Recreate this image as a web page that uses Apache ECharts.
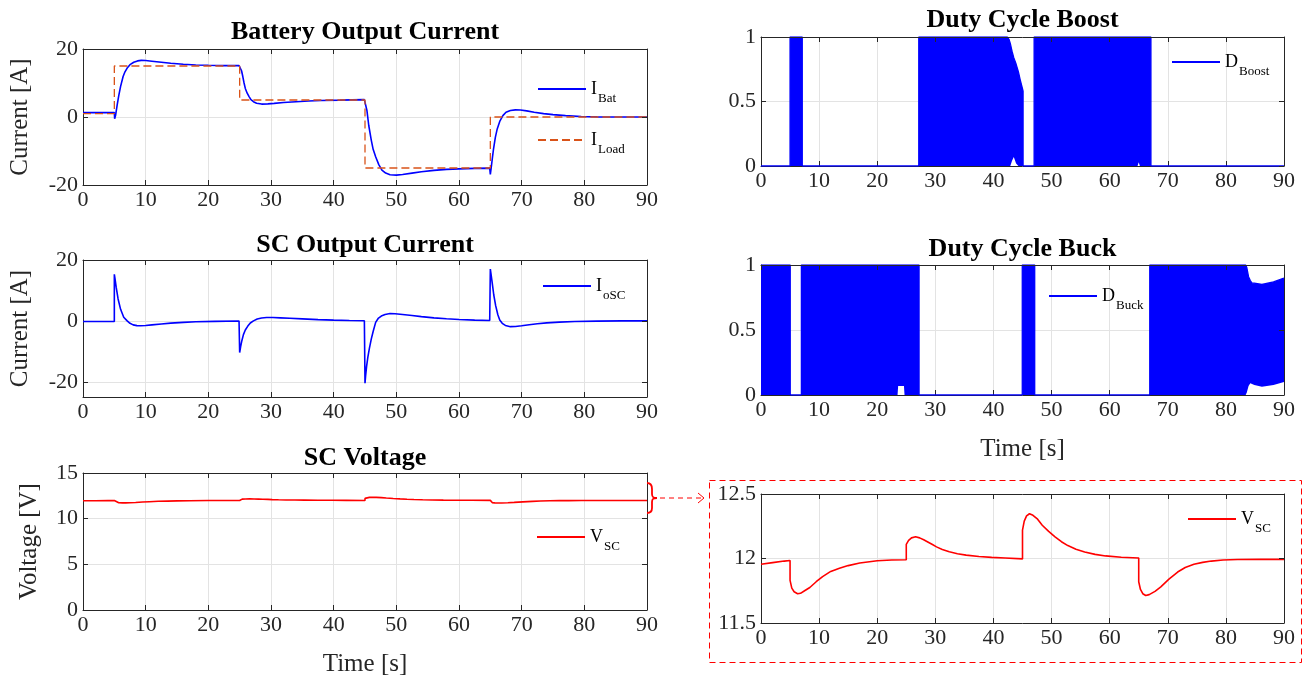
<!DOCTYPE html>
<html>
<head>
<meta charset="utf-8">
<script src="https://cdn.jsdelivr.net/npm/echarts@6/dist/echarts.min.js"></script>
<style>
  html, body { margin: 0; padding: 0; background: #ffffff; }
  #chart { width: 1304px; height: 679px; }
</style>
</head>
<body>
<div id="chart"></div>
<script>
// ---- Time axis ticks (s) ----
const timeTicks = [0, 10, 20, 30, 40, 50, 60, 70, 80, 90];

// ---- Battery output current [A]: [t, value] ----
const iBat = [
  [0, 1.3], [5, 1.3], [5.05, -0.5], [5.2, 0.5], [5.45, 3.5], [5.7, 6.2], [6.0, 9.0], [6.4, 11.9],
  [6.7, 13.3], [7.05, 14.4], [7.5, 15.4], [8.1, 16.1], [8.7, 16.5], [9.3, 16.65], [10, 16.6],
  [11, 16.4], [12.5, 16.1], [14, 15.8], [16, 15.5], [18, 15.3], [20, 15.2], [22.5, 15.1],
  [24.9, 15.1], [25, 15.6], [25.1, 15.0], [25.3, 13.6], [25.5, 11.9], [25.7, 10.0], [25.9, 8.4],
  [26.2, 7.0], [26.5, 6.0], [26.8, 5.1], [27.2, 4.5], [27.7, 4.05], [28.5, 3.8], [29.5, 3.85],
  [30.5, 4.0], [32, 4.25], [34, 4.5], [36, 4.7], [38, 4.85], [41, 4.95], [44.9, 5.1], [45, 5.6],
  [45.1, 4.8], [45.3, 2.0], [45.6, -2.5], [46.0, -6.8], [46.3, -9.5], [46.7, -11.7], [47.2, -14.0],
  [47.7, -15.6], [48.3, -16.5], [49, -17.0], [50, -17.1], [51, -16.9], [52.5, -16.5], [54, -16.1],
  [56, -15.7], [58, -15.4], [60, -15.25], [62.5, -15.1], [64.9, -15.05], [65, -16.9], [65.1, -15.5],
  [65.3, -12.5], [65.5, -9.5], [65.8, -6.0], [66.1, -3.5], [66.5, -1.3], [67, 0.4], [67.5, 1.4],
  [68.2, 1.9], [69, 2.1], [69.8, 2.05], [70.8, 1.8], [72, 1.4], [73.5, 1.0], [75, 0.7], [77, 0.4],
  [79.5, 0.15], [82, 0.05], [86, 0.0], [90, 0.0]
];

// ---- Load current reference [A] ----
const iLoad = [
  [0, 1], [5, 1], [5, 15], [25, 15], [25, 5], [45, 5], [45, -15], [65, -15], [65, 0], [90, 0]
];

// ---- Supercapacitor output current [A] ----
const iSC = [
  [0, -0.2], [5, -0.2], [5, 15.3], [5.1, 14.0], [5.3, 11.0], [5.6, 7.2], [6.0, 3.8], [6.5, 1.2],
  [7.05, 0], [7.5, -0.8], [8.0, -1.3], [8.6, -1.55], [9.2, -1.6], [10, -1.5], [11, -1.3],
  [12.5, -1.0], [14, -0.75], [16, -0.5], [18, -0.3], [21, -0.15], [24.9, -0.05], [25, -10.4],
  [25.15, -8.5], [25.35, -6.5], [25.6, -4.5], [25.9, -3.0], [26.3, -1.7], [26.7, -0.7], [27.2, 0],
  [27.8, 0.6], [28.5, 0.95], [29.3, 1.1], [30.3, 1.1], [31.5, 1.0], [33, 0.85], [35, 0.65],
  [37.5, 0.4], [40, 0.25], [42.5, 0.12], [44.9, 0.05], [45, -20.5], [45.1, -18.0], [45.25, -15.0],
  [45.45, -12.0], [45.7, -9.0], [46.0, -6.0], [46.3, -3.5], [46.7, -0.5], [47.1, 0.8], [47.6, 1.6],
  [48.2, 2.1], [49, 2.4], [49.8, 2.35], [51, 2.1], [52.5, 1.75], [54, 1.4], [56, 1.0], [58, 0.7],
  [60, 0.45], [62.5, 0.25], [64.9, 0.15], [65, 17.0], [65.1, 15.5], [65.3, 12.5], [65.55, 8.5],
  [65.85, 5.0], [66.2, 2.0], [66.5, 0.3], [66.9, -0.8], [67.4, -1.5], [68.2, -1.9], [69, -1.85],
  [70, -1.6], [71.2, -1.25], [72.5, -0.95], [74, -0.65], [76, -0.4], [78.5, -0.2], [82, -0.08],
  [86, 0], [90, 0]
];

// ---- Supercapacitor voltage [V] ----
const vSC = [
  [0, 11.956], [2, 11.968], [4, 11.98], [5, 11.985], [5, 11.83], [5.3, 11.77], [5.7, 11.742],
  [6.3, 11.727], [6.8, 11.73], [7.5, 11.75], [8.4, 11.775], [9.5, 11.82], [10.6, 11.86], [12, 11.9],
  [13.5, 11.925], [15, 11.945], [17, 11.965], [20, 11.982], [22.5, 11.988], [25, 11.99], [25, 12.11],
  [25.4, 12.14], [25.9, 12.16], [26.6, 12.168], [27.3, 12.16], [28, 12.145], [28.7, 12.128],
  [29.5, 12.108], [30.2, 12.09], [31.2, 12.07], [32.4, 12.052], [33.8, 12.037], [35.3, 12.026],
  [37.5, 12.015], [39.7, 12.009], [42, 12.004], [45, 11.997], [45, 12.22], [45.3, 12.29],
  [45.7, 12.33], [46.2, 12.347], [46.8, 12.335], [47.6, 12.305], [48.4, 12.258], [49.5, 12.21],
  [50.6, 12.168], [51.7, 12.13], [52.8, 12.1], [54.2, 12.072], [55.7, 12.05], [57.5, 12.032],
  [59.3, 12.02], [62, 12.01], [65, 12.004], [65, 11.82], [65.3, 11.76], [65.7, 11.727],
  [66.2, 11.713], [66.8, 11.72], [67.8, 11.745], [68.8, 11.78], [70.2, 11.84], [71.7, 11.895],
  [73, 11.93], [74.5, 11.955], [76, 11.97], [77.5, 11.98], [79.5, 11.988], [82, 11.992],
  [86, 11.993], [90, 11.993]
];

// ---- Boost duty cycle: switching envelope (time, lower, upper) ----
const boostTime  = [0, 5.0, 5.0, 7.1, 7.1, 27.15, 27.15, 42.4, 42.7, 42.9, 43.2, 43.5, 43.9, 44.3, 44.6, 45.0, 45.1, 45.1, 47.0, 47.0, 64.8, 65.0, 65.2, 67.1, 67.1, 90];
const boostLower = [0, 0,   0,   0,   0,   0,     0,     0,    0,    0,    0.04, 0.07, 0.02, 0,    0,    0,    0,    0,    0,    0,    0,    0.03, 0,    0,    0,    0];
const boostUpper = [0, 0,   1,   1,   0,   0,     1,     1,    0.98, 0.95, 0.89, 0.84, 0.79, 0.73, 0.67, 0.60, 0.58, 0,    0,    1,    1,    1,    1,    1,    0,    0];

// ---- Buck duty cycle: switching envelope (time, lower, upper) ----
const buckTime  = [0, 5.03, 5.03, 6.95, 6.95, 23.5, 23.6, 24.6, 24.7, 27.2, 27.2, 44.96, 44.96, 47.1, 47.1, 66.9, 66.9, 83.4, 83.6, 83.9, 84.2, 84.5, 84.9, 86.2, 88.2, 90];
const buckLower = [0, 0,    0,    0,    0,    0,    0.07, 0.07, 0,    0,    0,    0,     0,     0,    0,    0,    0,    0,    0.02, 0.07, 0.09, 0.085, 0.077, 0.064, 0.077, 0.10];
const buckUpper = [1, 1,    0,    0,    1,    1,    1,    1,    1,    1,    0,    0,     1,     1,    0,    0,    1,    1,    0.98, 0.91, 0.88, 0.86, 0.86, 0.85, 0.87, 0.90];

// ---- Panel titles and axis labels ----
const panelTitles = ['Battery Output Current', 'SC Output Current', 'SC Voltage', 'Duty Cycle Boost', 'Duty Cycle Buck', ''];
const yAxisNames  = ['Current [A]', 'Current [A]', 'Voltage [V]', '', '', ''];
const xAxisNames  = ['', '', 'Time [s]', '', 'Time [s]', ''];
const scCurrentTicks = [-20, 0, 20];

const FONT = '"Liberation Serif", "Times New Roman", Times, serif';
const AXIS_COLOR = '#262626';
const GRID_COLOR = '#E3E3E3';
const BLUE = '#0000FF';
const ORANGE = '#D95319';
const RED = '#FF0000';

const grids = [
  { left: 83,  top: 49,  width: 564, height: 136 },
  { left: 83,  top: 260, width: 564, height: 137 },
  { left: 83,  top: 473, width: 564, height: 137 },
  { left: 761, top: 37,  width: 523, height: 129 },
  { left: 761, top: 265, width: 523, height: 130 },
  { left: 761, top: 494, width: 523, height: 129 }
];

const yRanges = [
  { min: -20, max: 20, interval: 20 },
  { min: -25, max: 20, custom: scCurrentTicks },
  { min: 0, max: 15, interval: 5 },
  { min: 0, max: 1, interval: 0.5 },
  { min: 0, max: 1, interval: 0.5 },
  { min: 11.5, max: 12.5, interval: 0.5 }
];
const yNameGaps = [50, 50, 41, 0, 0, 0];

const tickFont = { fontFamily: FONT, fontSize: 22, color: AXIS_COLOR };
const nameFont = { fontFamily: FONT, fontSize: 25, color: AXIS_COLOR };

const xAxes = [];
const yAxes = [];
grids.forEach(function (g, gi) {
  const common = {
    gridIndex: gi, type: 'value',
    axisLine: { show: true, onZero: false, lineStyle: { color: AXIS_COLOR, width: 1 } },
    axisTick: { show: true, inside: true, length: 5, lineStyle: { color: AXIS_COLOR } }
  };
  xAxes.push(Object.assign({}, common, {
    position: 'bottom', min: timeTicks[0], max: timeTicks[timeTicks.length - 1], interval: timeTicks[1] - timeTicks[0],
    axisLabel: Object.assign({ margin: 4 }, tickFont),
    splitLine: { show: true, lineStyle: { color: GRID_COLOR, width: 1 } },
    name: xAxisNames[gi], nameLocation: 'middle', nameGap: 42, nameTextStyle: nameFont
  }));
  xAxes.push(Object.assign({}, common, {
    position: 'top', min: timeTicks[0], max: timeTicks[timeTicks.length - 1], interval: timeTicks[1] - timeTicks[0],
    axisLabel: { show: false }, splitLine: { show: false }, z: 5
  }));
  const r = yRanges[gi];
  const yBase = Object.assign({}, common, { min: r.min, max: r.max });
  if (r.custom) {
    yBase.axisTick = Object.assign({}, common.axisTick, { customValues: r.custom });
  } else {
    yBase.interval = r.interval;
  }
  const leftLabel = Object.assign({ margin: 5 }, tickFont);
  if (r.custom) leftLabel.customValues = r.custom;
  yAxes.push(Object.assign({}, yBase, {
    position: 'left', axisLabel: leftLabel,
    splitLine: { show: true, lineStyle: { color: GRID_COLOR, width: 1 } },
    name: yAxisNames[gi], nameLocation: 'middle', nameGap: yNameGaps[gi], nameTextStyle: nameFont
  }));
  yAxes.push(Object.assign({}, yBase, {
    position: 'right', axisLabel: { show: false }, splitLine: { show: false }, z: 5
  }));
});

function lineSeries(name, gi, data, color, width, type) {
  return {
    name: name, type: 'line', xAxisIndex: 2 * gi, yAxisIndex: 2 * gi,
    data: data, symbol: 'none', showSymbol: false, animation: false,
    lineStyle: { color: color, width: width, type: type || 'solid' },
    itemStyle: { color: color }, z: 3
  };
}

// Duty cycle: the fast switching fills the band between the lower and upper
// envelopes; the upper envelope is filled from zero, the lower gap is cleared.
function dutySeries(name, gi, time, lower, upper) {
  const upData = time.map(function (t, i) { return [t, upper[i]]; });
  const lowData = time.map(function (t, i) { return [t, lower[i]]; });
  return [
    {
      name: name, type: 'line', xAxisIndex: 2 * gi, yAxisIndex: 2 * gi,
      data: upData, symbol: 'none', animation: false,
      lineStyle: { color: BLUE, width: 1.3 }, itemStyle: { color: BLUE },
      areaStyle: { color: BLUE, opacity: 1 }, z: 3
    },
    {
      name: name + ' gap', type: 'line', xAxisIndex: 2 * gi, yAxisIndex: 2 * gi,
      data: lowData, symbol: 'none', animation: false,
      lineStyle: { width: 0, color: '#ffffff' }, itemStyle: { color: '#ffffff' },
      areaStyle: { color: '#ffffff', opacity: 1 }, z: 4
    }
  ];
}

const series = [
  lineSeries('I_Bat', 0, iBat, BLUE, 1.6),
  lineSeries('I_Load', 0, iLoad, ORANGE, 1.3, [8, 4]),
  lineSeries('I_oSC', 1, iSC, BLUE, 1.6),
  lineSeries('V_SC', 2, vSC, RED, 1.6),
  lineSeries('V_SC detail', 5, vSC, RED, 1.6)
].concat(dutySeries('D_Boost', 3, boostTime, boostLower, boostUpper))
 .concat(dutySeries('D_Buck', 4, buckTime, buckLower, buckUpper));

// Legend text with subscripts
const legendText = {
  'I_Bat': '{m|I}{s|Bat}', 'I_Load': '{m|I}{s|Load}', 'I_oSC': '{m|I}{s|oSC}',
  'V_SC': '{m|V}{s|SC}', 'V_SC detail': '{m|V}{s|SC}',
  'D_Boost': '{m|D}{s|Boost}', 'D_Buck': '{m|D}{s|Buck}'
};
const legendRich = {
  m: { fontFamily: FONT, fontSize: 18, color: '#000', lineHeight: 18, verticalAlign: 'top' },
  s: { fontFamily: FONT, fontSize: 13, color: '#000', lineHeight: 13, padding: [12, 0, 6, 1], verticalAlign: 'top' }
};
function legendAt(name, left, lineY) {
  return {
    data: [name], left: left, top: lineY - 9, padding: 0, itemWidth: 48, itemHeight: 12,
    selectedMode: false, formatter: function (n) { return legendText[n]; },
    itemStyle: { opacity: 0 },
    textStyle: { rich: legendRich }
  };
}
const legends = [
  legendAt('I_Bat', 537, 89),
  legendAt('I_Load', 537, 140),
  legendAt('I_oSC', 542, 286),
  legendAt('V_SC', 536, 537),
  legendAt('D_Boost', 1171, 62),
  legendAt('D_Buck', 1048, 296),
  legendAt('V_SC detail', 1187, 519)
];

// Centre each panel title above its plot box
const measureCtx = document.createElement('canvas').getContext('2d');
const titleFontSize = 26;
measureCtx.font = 'bold ' + titleFontSize + 'px ' + FONT;
const titleCentersY = [30, 243, 456, 18, 247];
const titles = [];
panelTitles.forEach(function (txt, gi) {
  if (!txt) return;
  const g = grids[gi];
  const w = measureCtx.measureText(txt).width;
  titles.push({
    text: txt, left: g.left + g.width / 2 - w / 2, top: titleCentersY[gi] - titleFontSize / 2 + 2, padding: 0,
    textStyle: { fontFamily: FONT, fontSize: titleFontSize, fontWeight: 'bold', color: '#000' }
  });
});

// Zoom callout: brace on the voltage trace, dashed arrow and dashed frame round the detail plot
function bez(x1, y1, cx1, cy1, cx2, cy2, x2, y2) {
  return {
    type: 'bezierCurve', z: 10,
    shape: { x1: x1, y1: y1, cpx1: cx1, cpy1: cy1, cpx2: cx2, cpy2: cy2, x2: x2, y2: y2 },
    style: { fill: null, stroke: RED, lineWidth: 1.8 }
  };
}
function seg(x1, y1, x2, y2, dash) {
  return {
    type: 'line', z: 10,
    shape: { x1: x1, y1: y1, x2: x2, y2: y2 },
    style: { stroke: RED, lineWidth: dash ? 1 : 1.8, lineDash: dash || null }
  };
}
const graphics = [
  bez(647, 483, 651, 483, 652, 485, 652, 489),
  seg(652, 489, 652, 494),
  bez(652, 494, 652, 497, 653, 498, 657, 498),
  bez(657, 498, 653, 498, 652, 499, 652, 502),
  seg(652, 502, 652, 508),
  bez(652, 508, 652, 511, 651, 513, 647, 513),
  seg(660, 498, 703, 498, [5, 4]),
  {
    type: 'polyline', z: 10,
    shape: { points: [[698, 493], [704, 498], [698, 503]] },
    style: { fill: null, stroke: RED, lineWidth: 1 }
  },
  {
    type: 'rect', z: 10,
    shape: { x: 709.5, y: 480.5, width: 592, height: 182 },
    style: { fill: null, stroke: RED, lineWidth: 1, lineDash: [6, 4] }
  }
];

const chart = echarts.init(document.getElementById('chart'), null, { renderer: 'canvas' });
chart.setOption({
  backgroundColor: '#ffffff',
  animation: false,
  title: titles,
  legend: legends,
  grid: grids.map(function (g) { return Object.assign({ show: false, containLabel: false }, g); }),
  xAxis: xAxes,
  yAxis: yAxes,
  series: series,
  graphic: graphics
});
</script>
</body>
</html>
